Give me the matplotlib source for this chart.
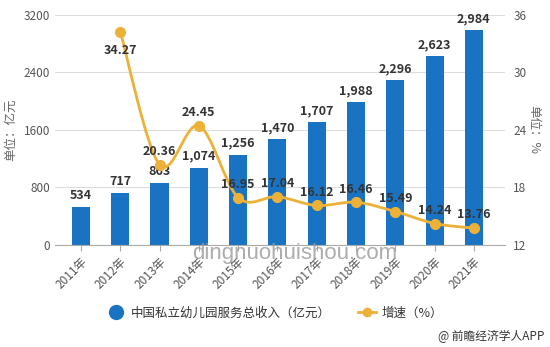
import numpy as np
import matplotlib
matplotlib.use("Agg")
import matplotlib.pyplot as plt
from matplotlib.path import Path
from matplotlib.patches import PathPatch
from matplotlib.lines import Line2D

plt.rcParams['font.family'] = ['Noto Sans CJK SC', 'DejaVu Sans']

# === DATA ===
years = ['2011年', '2012年', '2013年', '2014年', '2015年', '2016年',
         '2017年', '2018年', '2019年', '2020年', '2021年']
revenue = [534, 717, 863, 1074, 1256, 1470, 1707, 1988, 2296, 2623, 2984]
growth_years = [1, 2, 3, 4, 5, 6, 7, 8, 9, 10]
growth = [34.27, 20.36, 24.45, 16.95, 17.04, 16.12, 16.46, 15.49, 14.24, 13.76]

bar_color = '#1a73c2'
line_color = '#eeb137'

fig = plt.figure(figsize=(5.5, 3.47), dpi=100)
ax = fig.add_axes([0.1, 0.294, 0.818, 0.663])
ax2 = ax.twinx()

x = np.arange(len(years))
ax.bar(x, revenue, width=0.46, color=bar_color, zorder=2)
for xi, v in zip(x, revenue):
    ax.text(xi, v + 70, f'{v:,}', ha='center', va='bottom', fontsize=9,
            fontweight='bold', color='#333333', zorder=5)

ax.set_ylim(0, 3200)
ax.set_yticks([0, 800, 1600, 2400, 3200])
ax.set_xlim(-0.66, 10.79)
ax.set_xticks(x)
ax.set_xticklabels(years, rotation=45, ha='right', rotation_mode='anchor')
ax.grid(axis='y', color='#dddddd', linewidth=0.8, zorder=0)
ax.set_axisbelow(True)
for s in ['top', 'right', 'left']:
    ax.spines[s].set_visible(False)
ax.spines['bottom'].set_color('#aaaaaa')
ax.tick_params(axis='y', length=0, labelsize=8.5, colors='#555555')
ax.tick_params(axis='x', length=4, color='#aaaaaa', labelsize=8.5,
               labelcolor='#555555')
ax.set_ylabel('单位：亿元', fontsize=9, color='#666666', labelpad=5)

# smooth growth curve (bezier through the points)
gx = np.array(growth_years, dtype=float)
gy = np.array(growth, dtype=float)
verts = [(gx[0], gy[0])]
codes = [Path.MOVETO]
k = 0.33
for i in range(len(gx) - 1):
    p0 = np.array([gx[max(i - 1, 0)], gy[max(i - 1, 0)]])
    p1 = np.array([gx[i], gy[i]])
    p2 = np.array([gx[i + 1], gy[i + 1]])
    p3 = np.array([gx[min(i + 2, len(gx) - 1)], gy[min(i + 2, len(gx) - 1)]])
    c1 = p1 + (p2 - p0) * k / 2
    c2 = p2 - (p3 - p1) * k / 2
    verts += [tuple(c1), tuple(c2), tuple(p2)]
    codes += [Path.CURVE4] * 3
ax2.add_patch(PathPatch(Path(verts, codes), facecolor='none',
                        edgecolor=line_color, linewidth=2, zorder=3))
ax2.plot(gx, gy, 'o', color=line_color, markersize=7, zorder=4)
for xi, v in zip(gx, gy):
    if v > 30:
        ax2.text(xi, v - 1.3, f'{v:.2f}', ha='center', va='top', fontsize=9,
                 fontweight='bold', color='#333333', zorder=5)
    else:
        ax2.text(xi, v + 0.7, f'{v:.2f}', ha='center', va='bottom', fontsize=9,
                 fontweight='bold', color='#333333', zorder=5)

ax2.set_ylim(12, 36)
ax2.set_yticks([12, 18, 24, 30, 36])
for s in ['top', 'right', 'left', 'bottom']:
    ax2.spines[s].set_visible(False)
ax2.tick_params(axis='y', length=0, labelsize=8.5, colors='#555555', pad=6)
ax2.set_ylabel('单位：%', fontsize=9, color='#666666', rotation=-90,
               labelpad=10)

# legend
handles = [
    Line2D([], [], marker='o', linestyle='none', color=bar_color, markersize=10),
    Line2D([], [], marker='o', color=line_color, linewidth=2, markersize=6),
]
fig.legend(handles, ['中国私立幼儿园服务总收入（亿元）', '增速（%）'],
           loc='center', bbox_to_anchor=(0.5, 0.098), ncol=2, frameon=False,
           fontsize=9, handlelength=1.4, columnspacing=2.2, handletextpad=0.5,
           labelcolor='#333333')

fig.text(0.99, 0.03, '@ 前瞻经济学人APP', ha='right', va='center',
         fontsize=8.5, color='#333333')
fig.text(0.535, 0.27, 'dingnuohuishou.com', ha='center', va='center',
         fontsize=16, color='#999999', alpha=0.8, family='Liberation Sans')

fig.savefig('out.png', dpi=100)
